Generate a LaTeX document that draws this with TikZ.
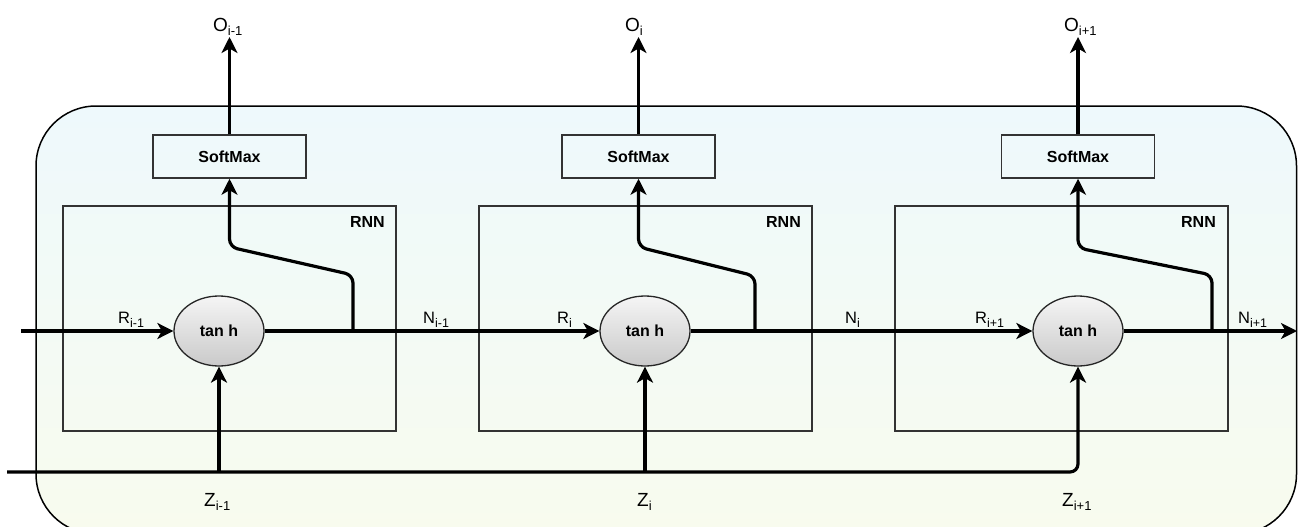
\documentclass[tikz,border=0pt]{standalone}
\usepackage{fontspec}
\setmainfont{Liberation Sans}
\usetikzlibrary{arrows.meta,shapes.geometric}
\definecolor{bgtop}{HTML}{EEF9FC}
\definecolor{bgbot}{HTML}{F8FBEE}
\definecolor{boxline}{HTML}{333333}
\newcommand{\lab}[4]{{\fontsize{#1}{#1}\selectfont #2}\raisebox{-4pt}{\fontsize{#3}{#3}\selectfont #4}}
\begin{document}
\begin{tikzpicture}[x=1pt,y=-1pt,
  rnnbox/.style={draw=boxline,line width=1.5pt,minimum width=333pt,minimum height=225pt,inner sep=0pt},
  smbox/.style={draw=boxline,line width=1.5pt,minimum width=153pt,minimum height=43pt,inner sep=0pt,
    font=\bfseries\fontsize{16}{16}\selectfont},
  tanhnode/.style={ellipse,draw=black!85,line width=1.3pt,minimum width=90pt,minimum height=70pt,inner sep=0pt,
    top color=black!4,bottom color=black!21,font=\bfseries\fontsize{16}{16}\selectfont},
  boldlbl/.style={inner sep=0pt,font=\bfseries\fontsize{16}{16}\selectfont},
  txt/.style={inner sep=0pt},
  flow/.style={line width=3.2pt,-{Stealth[length=16pt,width=16pt,inset=4.5pt]}}
]
\useasboundingbox (0,0) rectangle (1298,527);
\begin{scope}
  \clip (0,0) rectangle (1298,527);
  \draw[line width=1.5pt,rounded corners=60pt,top color=bgtop,bottom color=bgbot] (36,106) rectangle (1296.5,534);
\end{scope}

% RNN boxes
\node[rnnbox] (r1) at (229.5,318.5) {};
\node[rnnbox] (r2) at (645.5,318.5) {};
\node[rnnbox] (r3) at (1061.5,318.5) {};
\node[boldlbl,anchor=base east] (rl1) at (385,227) {RNN};
\node[boldlbl,anchor=base east] (rl2) at (801,227) {RNN};
\node[boldlbl,anchor=base east] (rl3) at (1216,227) {RNN};

% SoftMax boxes
\node[smbox] (s1) at (229.5,156.5) {SoftMax};
\node[smbox] (s2) at (638.5,156.5) {SoftMax};
\node[smbox] (s3) at (1078,156.5) {SoftMax};

% tanh nodes
\node[tanhnode] (e1) at (219,331) {tan h};
\node[tanhnode] (e2) at (645,331) {tan h};
\node[tanhnode] (e3) at (1078,331) {tan h};

% coordinates
\coordinate (in) at (21,331);
\coordinate (out) at (1297,331);
\coordinate (zin) at (7,472);
\coordinate (z1) at (219,472);
\coordinate (z2) at (645,472);
\coordinate (b1) at (353,331);
\coordinate (b2) at (755,331);
\coordinate (b3) at (1212,331);
\coordinate (o1) at (229.5,37);
\coordinate (o2) at (638.5,37);
\coordinate (o3) at (1078,37);

% main horizontal flow
\draw[flow] (in) -- (e1.west);
\draw[flow] (e1.east) -- (e2.west);
\draw[flow] (e2.east) -- (e3.west);
\draw[flow] (e3.east) -- (out);

% Z line
\draw[flow,rounded corners=8pt] (zin) -- (1078,472) -- (e3.south);
\draw[flow] (z1) -- (e1.south);
\draw[flow] (z2) -- (e2.south);

% branches to SoftMax
\draw[flow,rounded corners=8pt] (b1) -- (353,275) -- (229.5,247) -- (s1.south);
\draw[flow,rounded corners=8pt] (b2) -- (755,276) -- (638.5,247) -- (s2.south);
\draw[flow,rounded corners=8pt] (b3) -- (1212,275) -- (1078,248) -- (s3.south);

% outputs
\draw[flow] (s1.north) -- (o1);
\draw[flow] (s2.north) -- (o2);
\draw[flow] (s3.north) -- (o3);

% labels
\node[txt,anchor=base west] (lo1) at (213,32) {\lab{19}{O}{13}{i-1}};
\node[txt,anchor=base west] (lo2) at (625,32) {\lab{19}{O}{13}{i}};
\node[txt,anchor=base west] (lo3) at (1064,32) {\lab{19}{O}{13}{i+1}};

\node[txt,anchor=base west] (lr1) at (118,323) {\lab{16.5}{R}{12.5}{i-1}};
\node[txt,anchor=base west] (lr2) at (557,323) {\lab{16.5}{R}{12.5}{i}};
\node[txt,anchor=base west] (lr3) at (975,323) {\lab{16.5}{R}{12.5}{i+1}};

\node[txt,anchor=base west] (ln1) at (423,323) {\lab{16.5}{N}{12.5}{i-1}};
\node[txt,anchor=base west] (ln2) at (845,323) {\lab{16.5}{N}{12.5}{i}};
\node[txt,anchor=base west] (ln3) at (1238,323) {\lab{16.5}{N}{12.5}{i+1}};

\node[txt,anchor=base west] (lz1) at (204,506) {\lab{19}{Z}{13}{i-1}};
\node[txt,anchor=base west] (lz2) at (637,506) {\lab{19}{Z}{13}{i}};
\node[txt,anchor=base west] (lz3) at (1062,506) {\lab{19}{Z}{13}{i+1}};
\end{tikzpicture}
\end{document}
